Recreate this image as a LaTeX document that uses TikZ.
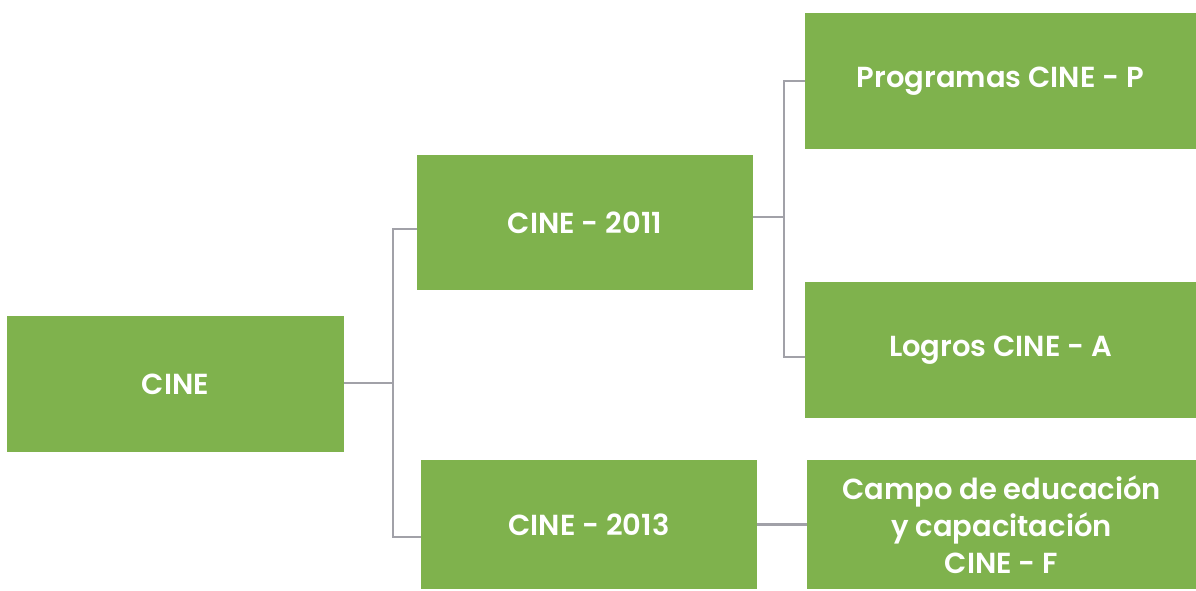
\documentclass[tikz,border=0pt]{standalone}
\usepackage{fontspec}
\setmainfont{Poppins}[BoldFont={Poppins SemiBold}]
\usepackage{tikz}
\usetikzlibrary{calc}
\definecolor{cinegreen}{RGB}{ 127, 178, 77 }
\definecolor{linkgray}{RGB}{ 161, 161, 168 }

\begin{document}
\begin{tikzpicture}[x=1pt,y=-1pt]
    \tikzstyle{green box}=[fill=cinegreen,text=white,inner sep=0,align=center,
        font=\bfseries\fontsize{29}{37}\selectfont]
    \tikzstyle{link}=[draw=linkgray,line width=2.5pt]
    \useasboundingbox[fill=white] (0,0) rectangle (1196,590);

    % boxes
    \node(cine)[green box,minimum width=337pt,minimum height=136pt] at (175.5,384) {CINE};
    \node(c2011)[green box,minimum width=336pt,minimum height=135pt] at (585,222.5) {CINE - 2011};
    \node(c2013)[green box,minimum width=336pt,minimum height=129pt] at (589,524.5) {CINE - 2013};
    \node(prog)[green box,minimum width=391pt,minimum height=136pt] at (1000.5,81) {Programas CINE - P};
    \node(logros)[green box,minimum width=391pt,minimum height=136pt] at (1000.5,350) {Logros CINE - A};
    \node(campo)[green box,minimum width=389pt,minimum height=129pt] at (1001.5,524.5)
        {Campo de educación\\y capacitación\\CINE - F};

    % connectors
    \coordinate(fork1) at (393,383);
    \coordinate(fork2) at (784,217);
    \draw[link] (cine.east |- fork1) -- (fork1);
    \draw[link] ($(c2011.west)+(0,6.5)$) -| (fork1) |- ($(c2013.west)+(0,12.5)$);
    \draw[link] (c2011.east |- fork2) -- (fork2);
    \draw[link] (prog.west) -| (fork2) |- ($(logros.west)+(0,7)$);
    \draw[link] (c2013.east) -- (campo.west);
\end{tikzpicture}
\end{document}
